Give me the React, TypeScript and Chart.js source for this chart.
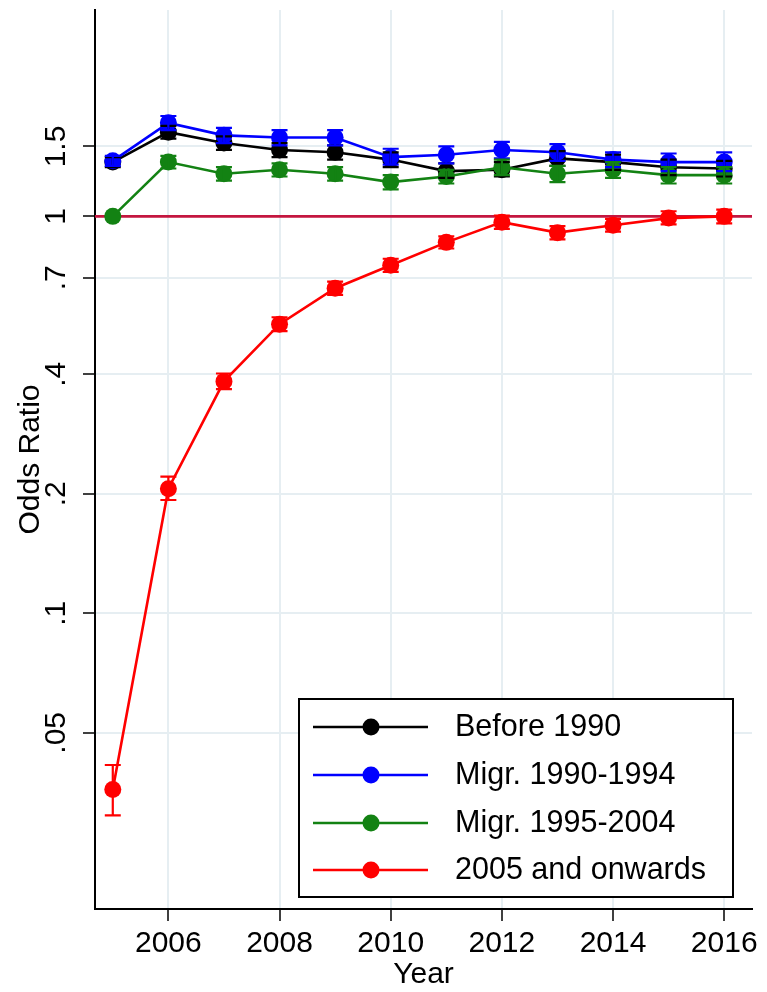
import React, { useEffect, useRef } from 'react';
import { Chart, registerables } from 'chart.js';

Chart.register(...registerables);

const years = [2005, 2006, 2007, 2008, 2009, 2010, 2011, 2012, 2013, 2014, 2015, 2016];

const seriesNames = ['Before 1990', 'Migr. 1990-1994', 'Migr. 1995-2004', '2005 and onwards'];
const seriesColors = ['#000000', '#0000ff', '#138213', '#ff0000'];

const before1990 = [1.37, 1.63, 1.53, 1.47, 1.45, 1.39, 1.3, 1.31, 1.4, 1.37, 1.33, 1.32];
const before1990Low = [1.33, 1.57, 1.47, 1.41, 1.39, 1.33, 1.25, 1.26, 1.34, 1.31, 1.27, 1.26];
const before1990High = [1.41, 1.69, 1.59, 1.53, 1.51, 1.45, 1.36, 1.37, 1.46, 1.43, 1.39, 1.38];

const migr1990 = [1.38, 1.72, 1.6, 1.58, 1.58, 1.41, 1.43, 1.47, 1.45, 1.39, 1.37, 1.37];
const migr1990Low = [1.34, 1.65, 1.53, 1.51, 1.51, 1.35, 1.36, 1.4, 1.38, 1.33, 1.3, 1.3];
const migr1990High = [1.42, 1.79, 1.67, 1.65, 1.65, 1.48, 1.5, 1.54, 1.52, 1.45, 1.44, 1.45];

const migr1995 = [1.0, 1.37, 1.28, 1.31, 1.28, 1.22, 1.26, 1.33, 1.28, 1.31, 1.27, 1.27];
const migr1995Low = [1.0, 1.32, 1.23, 1.26, 1.23, 1.17, 1.21, 1.27, 1.22, 1.25, 1.21, 1.21];
const migr1995High = [1.0, 1.42, 1.33, 1.36, 1.33, 1.27, 1.31, 1.39, 1.34, 1.37, 1.33, 1.33];

const onwards2005 = [0.036, 0.206, 0.384, 0.535, 0.659, 0.753, 0.86, 0.967, 0.91, 0.95, 0.99, 1.0];
const onwards2005Low = [0.031, 0.193, 0.367, 0.514, 0.634, 0.725, 0.83, 0.93, 0.875, 0.915, 0.955, 0.96];
const onwards2005High = [0.0415, 0.221, 0.402, 0.557, 0.685, 0.782, 0.89, 1.005, 0.945, 0.985, 1.03, 1.04];

const yTickValues = [0.05, 0.1, 0.2, 0.4, 0.7, 1, 1.5];
const yTickLabels = ['.05', '.1', '.2', '.4', '.7', '1', '1.5'];
const xTickValues = [2006, 2008, 2010, 2012, 2014, 2016];

const xMin = 2004.68;
const xMax = 2016.5;
const yMin = 0.018;
const yMax = 3.31;
const referenceValue = 1;

const FONT = "'Liberation Sans', Arial, Helvetica, sans-serif";

const seriesValues = [before1990, migr1990, migr1995, onwards2005];
const seriesLow = [before1990Low, migr1990Low, migr1995Low, onwards2005Low];
const seriesHigh = [before1990High, migr1990High, migr1995High, onwards2005High];

const errorBarPlugin = {
  id: 'errorBars',
  afterDatasetsDraw(chart: any) {
    const { ctx } = chart;
    const x = chart.scales.x;
    const y = chart.scales.y;
    ctx.save();
    ctx.lineWidth = 2.2;
    seriesValues.forEach((_, s) => {
      ctx.strokeStyle = seriesColors[s];
      years.forEach((yr, i) => {
        const lo = seriesLow[s][i];
        const hi = seriesHigh[s][i];
        if (lo === hi) return;
        const px = x.getPixelForValue(yr);
        const pl = y.getPixelForValue(lo);
        const ph = y.getPixelForValue(hi);
        ctx.beginPath();
        ctx.moveTo(px, pl);
        ctx.lineTo(px, ph);
        ctx.moveTo(px - 8, pl);
        ctx.lineTo(px + 8, pl);
        ctx.moveTo(px - 8, ph);
        ctx.lineTo(px + 8, ph);
        ctx.stroke();
      });
    });
    ctx.restore();
  },
};

const legendPlugin = {
  id: 'boxLegend',
  afterDraw(chart: any) {
    const { ctx } = chart;
    const bx = 299, by = 699, bw = 434, bh = 198;
    const rows = [727, 775, 823, 870];
    ctx.save();
    ctx.fillStyle = '#ffffff';
    ctx.fillRect(bx, by, bw, bh);
    ctx.strokeStyle = '#000000';
    ctx.lineWidth = 2;
    ctx.strokeRect(bx, by, bw, bh);
    seriesNames.forEach((name, i) => {
      const ry = rows[i];
      ctx.strokeStyle = seriesColors[i];
      ctx.lineWidth = 2.6;
      ctx.beginPath();
      ctx.moveTo(313, ry);
      ctx.lineTo(428, ry);
      ctx.stroke();
      ctx.fillStyle = seriesColors[i];
      ctx.beginPath();
      ctx.arc(371, ry, 8.5, 0, Math.PI * 2);
      ctx.fill();
      ctx.fillStyle = '#000000';
      ctx.font = `30.5px ${FONT}`;
      ctx.textAlign = 'left';
      ctx.textBaseline = 'middle';
      ctx.fillText(name, 455, ry + 1);
    });
    ctx.restore();
  },
};

export default function App() {
  const canvasRef = useRef<HTMLCanvasElement | null>(null);

  useEffect(() => {
    document.body.style.margin = '0';
    const canvas = canvasRef.current;
    if (!canvas) return;

    const datasets: any[] = [
      {
        label: 'ref',
        data: [
          { x: xMin, y: referenceValue },
          { x: xMax, y: referenceValue },
        ],
        borderColor: '#c4163f',
        borderWidth: 2.6,
        pointRadius: 0,
        order: 10,
      },
    ];
    seriesValues.forEach((vals, s) => {
      datasets.push({
        label: seriesNames[s],
        data: years.map((yr, i) => ({ x: yr, y: vals[i] })),
        borderColor: seriesColors[s],
        backgroundColor: seriesColors[s],
        borderWidth: 2.6,
        pointRadius: 8.5,
        pointBorderWidth: 0,
        pointBackgroundColor: seriesColors[s],
        order: [4, 3, 2, 1][s],
      });
    });

    const chart = new Chart(canvas, {
      type: 'line',
      data: { datasets },
      plugins: [errorBarPlugin, legendPlugin],
      options: {
        animation: false,
        responsive: false,
        devicePixelRatio: 1,
        layout: { padding: { top: 10, right: 15, left: 0, bottom: 0 } },
        plugins: {
          legend: { display: false },
          tooltip: { enabled: false },
        },
        scales: {
          x: {
            type: 'linear',
            min: xMin,
            max: xMax,
            afterBuildTicks: (scale: any) => {
              scale.ticks = xTickValues.map((v) => ({ value: v }));
            },
            afterFit: (scale: any) => {
              scale.height = 83;
              scale.paddingLeft = 0;
              scale.paddingRight = 0;
            },
            ticks: {
              color: '#000000',
              font: { family: FONT, size: 30 },
              padding: 5,
              maxRotation: 0,
              minRotation: 0,
              callback: (v: any) => String(v),
            },
            grid: {
              color: '#e6eef2',
              lineWidth: 2,
              tickColor: '#000000',
              tickLength: 12,
              tickWidth: 1.5,
            },
            border: { display: true, color: '#000000', width: 2 },
            title: {
              display: true,
              text: 'Year',
              color: '#000000',
              font: { family: FONT, size: 30, lineHeight: 1 },
              padding: { top: 0, bottom: 2 },
            },
          },
          y: {
            type: 'logarithmic',
            min: yMin,
            max: yMax,
            afterBuildTicks: (scale: any) => {
              scale.ticks = yTickValues.map((v) => ({ value: v }));
            },
            afterFit: (scale: any) => {
              scale.width = 95;
              scale.paddingTop = 0;
              scale.paddingBottom = 0;
            },
            ticks: {
              color: '#000000',
              font: { family: FONT, size: 30 },
              padding: 5,
              minRotation: 90,
              maxRotation: 90,
              crossAlign: 'center',
              callback: (v: any) => {
                const idx = yTickValues.indexOf(Number(v));
                return idx >= 0 ? yTickLabels[idx] : '';
              },
            },
            grid: {
              color: '#e6eef2',
              lineWidth: 2,
              tickColor: '#000000',
              tickLength: 12,
              tickWidth: 1.5,
            },
            border: { display: true, color: '#000000', width: 2 },
            title: {
              display: true,
              text: 'Odds Ratio',
              color: '#000000',
              font: { family: FONT, size: 30 },
              padding: { top: 13, bottom: 0 },
            },
          },
        },
      },
    });

    return () => {
      chart.destroy();
    };
  }, []);

  return (
    <div style={{ width: 767, height: 992 }}>
      <canvas ref={canvasRef} width={767} height={992} style={{ display: 'block' }} />
    </div>
  );
}
